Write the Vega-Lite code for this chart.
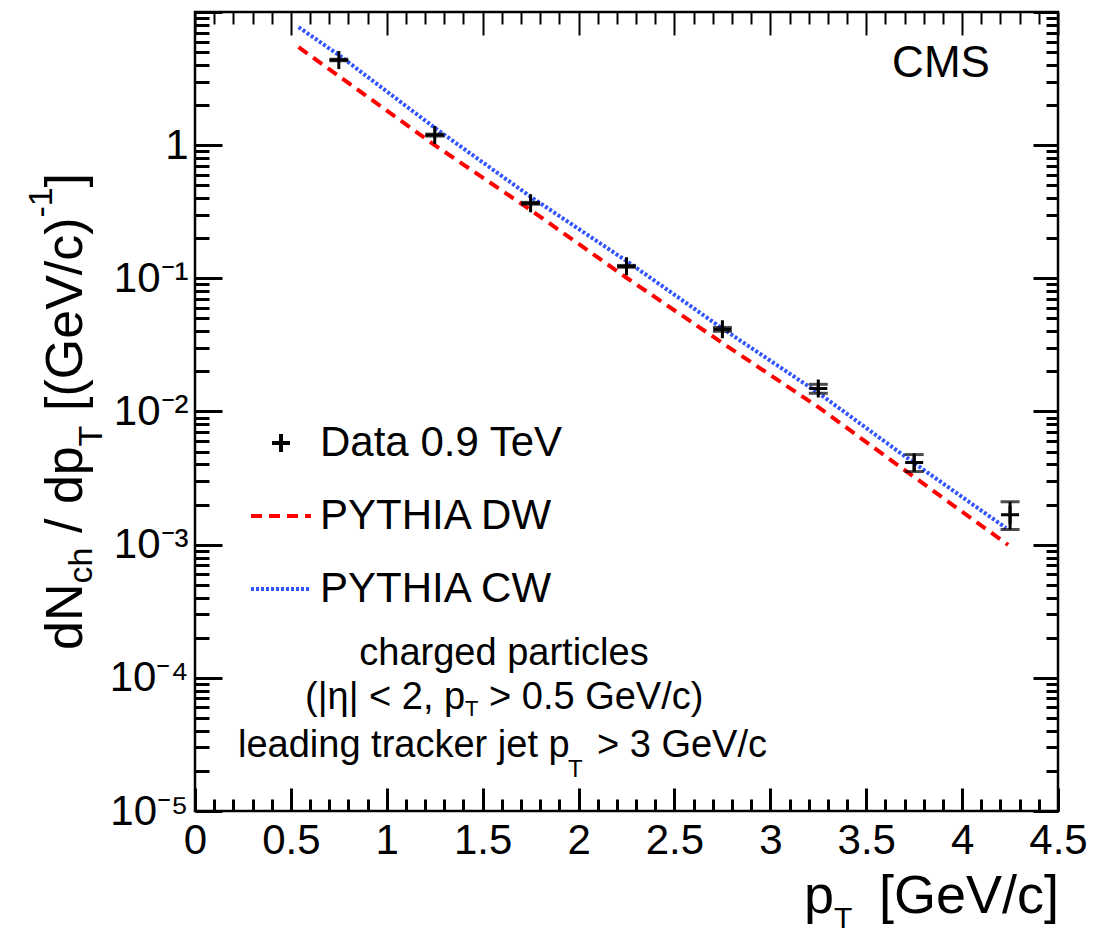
{
  "$schema": "https://vega.github.io/schema/vega-lite/v6.json",
  "width": 863,
  "height": 799,
  "autosize": {"type": "none"},
  "padding": {"left": 195, "top": 12, "right": 38, "bottom": 124},
  "background": "white",
  "config": {
    "font": "Liberation Sans",
    "view": {"stroke": "black", "strokeWidth": 2.5},
    "axis": {"grid": false, "domain": false, "labelFont": "Liberation Sans", "labelColor": "black", "tickColor": "black", "labelOverlap": false, "labelFlush": false, "labelBound": false}
  },
  "datasets": {
    "measured": [
      {"pt": 0.75, "dndpt": 4.36, "low": 4.30, "high": 4.42, "series": "Data 0.9 TeV"},
      {"pt": 1.25, "dndpt": 1.19, "low": 1.17, "high": 1.21, "series": "Data 0.9 TeV"},
      {"pt": 1.75, "dndpt": 0.366, "low": 0.360, "high": 0.372, "series": "Data 0.9 TeV"},
      {"pt": 2.25, "dndpt": 0.123, "low": 0.121, "high": 0.125, "series": "Data 0.9 TeV"},
      {"pt": 2.75, "dndpt": 0.0414, "low": 0.0400, "high": 0.0428, "series": "Data 0.9 TeV"},
      {"pt": 3.25, "dndpt": 0.0149, "low": 0.0137, "high": 0.0160, "series": "Data 0.9 TeV"},
      {"pt": 3.75, "dndpt": 0.00414, "low": 0.00354, "high": 0.00475, "series": "Data 0.9 TeV"},
      {"pt": 4.25, "dndpt": 0.00168, "low": 0.0013, "high": 0.0021, "series": "Data 0.9 TeV"}
    ],
    "models": [
      {"pt": 0.54, "dndpt": 5.45, "series": "PYTHIA DW"},
      {"pt": 1.25, "dndpt": 1.0, "series": "PYTHIA DW"},
      {"pt": 1.75, "dndpt": 0.326, "series": "PYTHIA DW"},
      {"pt": 2.25, "dndpt": 0.101, "series": "PYTHIA DW"},
      {"pt": 2.75, "dndpt": 0.0327, "series": "PYTHIA DW"},
      {"pt": 3.25, "dndpt": 0.0108, "series": "PYTHIA DW"},
      {"pt": 3.75, "dndpt": 0.00322, "series": "PYTHIA DW"},
      {"pt": 4.24, "dndpt": 0.000995, "series": "PYTHIA DW"},
      {"pt": 0.54, "dndpt": 7.7, "series": "PYTHIA CW"},
      {"pt": 0.75, "dndpt": 4.75, "series": "PYTHIA CW"},
      {"pt": 1.25, "dndpt": 1.35, "series": "PYTHIA CW"},
      {"pt": 1.75, "dndpt": 0.41, "series": "PYTHIA CW"},
      {"pt": 2.25, "dndpt": 0.135, "series": "PYTHIA CW"},
      {"pt": 2.75, "dndpt": 0.042, "series": "PYTHIA CW"},
      {"pt": 3.25, "dndpt": 0.0138, "series": "PYTHIA CW"},
      {"pt": 3.75, "dndpt": 0.0041, "series": "PYTHIA CW"},
      {"pt": 4.23, "dndpt": 0.00133, "series": "PYTHIA CW"}
    ]
  },
  "layer": [
    {
      "data": {"name": "models"},
      "mark": {"type": "line", "strokeWidth": 4},
      "encoding": {
        "x": {
          "field": "pt", "type": "quantitative",
          "scale": {"domain": [0, 4.5], "nice": false, "zero": false},
          "axis": {
            "orient": "bottom", "title": null,
            "values": [0,0.1,0.2,0.3,0.4,0.5,0.6,0.7,0.8,0.9,1,1.1,1.2,1.3,1.4,1.5,1.6,1.7,1.8,1.9,2,2.1,2.2,2.3,2.4,2.5,2.6,2.7,2.8,2.9,3,3.1,3.2,3.3,3.4,3.5,3.6,3.7,3.8,3.9,4,4.1,4.2,4.3,4.4,4.5],
            "labelExpr": "abs(datum.value*2-round(datum.value*2))<0.001 ? format(datum.value,'~g') : ''",
            "labelFontSize": 42, "labelPadding": 32,
            "tickSize": {"condition": {"test": "abs(datum.value*2-round(datum.value*2))<0.001", "value": -23}, "value": -12},
            "tickWidth": 3
          }
        },
        "y": {
          "field": "dndpt", "type": "quantitative",
          "scale": {"type": "log", "domain": [0.00001, 10], "nice": false},
          "axis": {
            "orient": "left", "title": null,
            "values": [0.00001,0.00002,0.00003,0.00004,0.00005,0.00006,0.00007,0.00008,0.00009,0.0001,0.0002,0.0003,0.0004,0.0005,0.0006,0.0007,0.0008,0.0009,0.001,0.002,0.003,0.004,0.005,0.006,0.007,0.008,0.009,0.01,0.02,0.03,0.04,0.05,0.06,0.07,0.08,0.09,0.1,0.2,0.3,0.4,0.5,0.6,0.7,0.8,0.9,1,2,3,4,5,6,7,8,9,10],
            "labelExpr": "abs(log(datum.value)/LN10 - round(log(datum.value)/LN10)) < 0.001 && datum.value < 5 ? ['10⁻⁵','10⁻⁴','10⁻³','10⁻²','10⁻¹','1'][round(log(datum.value)/LN10)+5] : ''",
            "labelFontSize": 42, "labelPadding": 34,
            "tickSize": {"condition": {"test": "abs(log(datum.value)/LN10 - round(log(datum.value)/LN10)) < 0.001", "value": -27}, "value": -14},
            "tickWidth": 3
          }
        },
        "color": {
          "field": "series", "type": "nominal",
          "scale": {"domain": ["Data 0.9 TeV", "PYTHIA DW", "PYTHIA CW"], "range": ["#000000", "#ff0000", "#3355ff"]},
          "legend": {
            "orient": "none", "legendX": 54, "legendY": 399, "title": null, "padding": 0,
            "labelFontSize": 42, "labelFont": "Liberation Sans", "labelColor": "black", "labelLimit": 500,
            "labelOffset": 7, "rowPadding": 20, "symbolSize": 3600, "symbolStrokeWidth": 4
          }
        },
        "strokeDash": {
          "field": "series", "type": "nominal",
          "scale": {"domain": ["Data 0.9 TeV", "PYTHIA DW", "PYTHIA CW"], "range": [[1, 0], [11, 7], [3, 2]]}
        }
      }
    },
    {
      "data": {"name": "measured"},
      "mark": {"type": "point", "filled": false, "strokeWidth": 3, "size": 3600, "opacity": 1},
      "encoding": {
        "x": {
          "field": "pt", "type": "quantitative",
          "axis": {
            "orient": "top", "title": null, "labels": false,
            "values": [0,0.1,0.2,0.3,0.4,0.5,0.6,0.7,0.8,0.9,1,1.1,1.2,1.3,1.4,1.5,1.6,1.7,1.8,1.9,2,2.1,2.2,2.3,2.4,2.5,2.6,2.7,2.8,2.9,3,3.1,3.2,3.3,3.4,3.5,3.6,3.7,3.8,3.9,4,4.1,4.2,4.3,4.4,4.5],
            "tickSize": {"condition": {"test": "abs(datum.value*2-round(datum.value*2))<0.001", "value": -23}, "value": -12},
            "tickWidth": 2
          }
        },
        "y": {
          "field": "dndpt", "type": "quantitative",
          "axis": {
            "orient": "right", "title": null, "labels": false,
            "values": [0.00001,0.00002,0.00003,0.00004,0.00005,0.00006,0.00007,0.00008,0.00009,0.0001,0.0002,0.0003,0.0004,0.0005,0.0006,0.0007,0.0008,0.0009,0.001,0.002,0.003,0.004,0.005,0.006,0.007,0.008,0.009,0.01,0.02,0.03,0.04,0.05,0.06,0.07,0.08,0.09,0.1,0.2,0.3,0.4,0.5,0.6,0.7,0.8,0.9,1,2,3,4,5,6,7,8,9,10],
            "tickSize": {"condition": {"test": "abs(log(datum.value)/LN10 - round(log(datum.value)/LN10)) < 0.001", "value": -25}, "value": -12},
            "tickWidth": 3
          }
        },
        "color": {"field": "series", "type": "nominal"},
        "shape": {
          "field": "series", "type": "nominal",
          "scale": {"domain": ["Data 0.9 TeV", "PYTHIA DW", "PYTHIA CW"], "range": ["M-0.3,0H0.3M0,-0.3V0.3", "stroke", "stroke"]}
        }
      }
    },
    {
      "data": {"name": "measured"},
      "mark": {"type": "rule", "strokeWidth": 3, "color": "black"},
      "encoding": {
        "x": {"field": "pt", "type": "quantitative", "axis": null},
        "y": {"field": "low", "type": "quantitative", "axis": null},
        "y2": {"field": "high"}
      }
    },
    {
      "data": {"name": "measured"},
      "mark": {"type": "tick", "orient": "horizontal", "size": 19, "thickness": 3, "color": "black"},
      "encoding": {
        "x": {"field": "pt", "type": "quantitative", "axis": null},
        "y": {"field": "low", "type": "quantitative", "axis": null}
      }
    },
    {
      "data": {"name": "measured"},
      "mark": {"type": "tick", "orient": "horizontal", "size": 19, "thickness": 3, "color": "black"},
      "encoding": {
        "x": {"field": "pt", "type": "quantitative", "axis": null},
        "y": {"field": "high", "type": "quantitative", "axis": null}
      }
    },
    {
      "data": {"values": [{}]},
      "mark": {"type": "text", "text": "CMS", "fontSize": 44, "align": "center", "baseline": "alphabetic", "color": "black"},
      "encoding": {"x": {"datum": 3.89, "type": "quantitative", "axis": null}, "y": {"datum": 3.25, "type": "quantitative", "axis": null}}
    },
    {
      "data": {"values": [{}]},
      "mark": {"type": "text", "text": "charged particles", "fontSize": 38, "align": "center", "baseline": "alphabetic", "color": "black"},
      "encoding": {"x": {"datum": 1.611, "type": "quantitative", "axis": null}, "y": {"datum": 0.0001249, "type": "quantitative", "axis": null}}
    },
    {
      "data": {"values": [{}]},
      "mark": {"type": "text", "text": "(|η| < 2, p", "fontSize": 38, "align": "left", "baseline": "alphabetic", "color": "black"},
      "encoding": {"x": {"datum": 0.5736, "type": "quantitative", "axis": null}, "y": {"datum": 0.0000583, "type": "quantitative", "axis": null}}
    },
    {
      "data": {"values": [{}]},
      "mark": {"type": "text", "text": "T", "fontSize": 22, "dy": 7, "align": "left", "baseline": "alphabetic", "color": "black"},
      "encoding": {"x": {"datum": 1.408, "type": "quantitative", "axis": null}, "y": {"datum": 0.0000583, "type": "quantitative", "axis": null}}
    },
    {
      "data": {"values": [{}]},
      "mark": {"type": "text", "text": "> 0.5 GeV/c)", "fontSize": 38, "align": "left", "baseline": "alphabetic", "color": "black"},
      "encoding": {"x": {"datum": 1.533, "type": "quantitative", "axis": null}, "y": {"datum": 0.0000583, "type": "quantitative", "axis": null}}
    },
    {
      "data": {"values": [{}]},
      "mark": {"type": "text", "text": "leading tracker jet p", "fontSize": 38, "align": "left", "baseline": "alphabetic", "color": "black"},
      "encoding": {"x": {"datum": 0.2242, "type": "quantitative", "axis": null}, "y": {"datum": 0.00002544, "type": "quantitative", "axis": null}}
    },
    {
      "data": {"values": [{}]},
      "mark": {"type": "text", "text": "T", "fontSize": 24, "dy": 20, "align": "left", "baseline": "alphabetic", "color": "black"},
      "encoding": {"x": {"datum": 1.945, "type": "quantitative", "axis": null}, "y": {"datum": 0.00002544, "type": "quantitative", "axis": null}}
    },
    {
      "data": {"values": [{}]},
      "mark": {"type": "text", "text": "> 3 GeV/c", "fontSize": 38, "align": "left", "baseline": "alphabetic", "color": "black"},
      "encoding": {"x": {"datum": 2.096, "type": "quantitative", "axis": null}, "y": {"datum": 0.00002544, "type": "quantitative", "axis": null}}
    },
    {
      "data": {"values": [{}]},
      "mark": {"type": "text", "text": "p", "fontSize": 54, "align": "left", "baseline": "alphabetic", "color": "black"},
      "encoding": {"x": {"datum": 3.175, "type": "quantitative", "axis": null}, "y": {"datum": 0.000001714, "type": "quantitative", "axis": null}}
    },
    {
      "data": {"values": [{}]},
      "mark": {"type": "text", "text": "T", "fontSize": 30, "dy": 15, "align": "left", "baseline": "alphabetic", "color": "black"},
      "encoding": {"x": {"datum": 3.332, "type": "quantitative", "axis": null}, "y": {"datum": 0.000001714, "type": "quantitative", "axis": null}}
    },
    {
      "data": {"values": [{}]},
      "mark": {"type": "text", "text": "[GeV/c]", "fontSize": 54, "align": "right", "baseline": "alphabetic", "color": "black"},
      "encoding": {"x": {"datum": 4.505, "type": "quantitative", "axis": null}, "y": {"datum": 0.000001714, "type": "quantitative", "axis": null}}
    },
    {
      "data": {"values": [{}]},
      "mark": {"type": "text", "text": "dN", "fontSize": 52, "angle": 270, "align": "left", "baseline": "alphabetic", "color": "black"},
      "encoding": {"x": {"datum": -0.589, "type": "quantitative", "axis": null}, "y": {"datum": 0.0001618, "type": "quantitative", "axis": null}}
    },
    {
      "data": {"values": [{}]},
      "mark": {"type": "text", "text": "ch", "fontSize": 34, "dy": 10, "angle": 270, "align": "left", "baseline": "alphabetic", "color": "black"},
      "encoding": {"x": {"datum": -0.589, "type": "quantitative", "axis": null}, "y": {"datum": 0.000511, "type": "quantitative", "axis": null}}
    },
    {
      "data": {"values": [{}]},
      "mark": {"type": "text", "text": "/ dp", "fontSize": 52, "angle": 270, "align": "left", "baseline": "alphabetic", "color": "black"},
      "encoding": {"x": {"datum": -0.589, "type": "quantitative", "axis": null}, "y": {"datum": 0.001224, "type": "quantitative", "axis": null}}
    },
    {
      "data": {"values": [{}]},
      "mark": {"type": "text", "text": "T", "fontSize": 34, "dy": 20, "angle": 270, "align": "left", "baseline": "alphabetic", "color": "black"},
      "encoding": {"x": {"datum": -0.589, "type": "quantitative", "axis": null}, "y": {"datum": 0.00546, "type": "quantitative", "axis": null}}
    },
    {
      "data": {"values": [{}]},
      "mark": {"type": "text", "text": "[(GeV/c)", "fontSize": 52, "angle": 270, "align": "left", "baseline": "alphabetic", "color": "black"},
      "encoding": {"x": {"datum": -0.589, "type": "quantitative", "axis": null}, "y": {"datum": 0.01009, "type": "quantitative", "axis": null}}
    },
    {
      "data": {"values": [{}]},
      "mark": {"type": "text", "text": "-1", "fontSize": 34, "dy": -30, "angle": 270, "align": "left", "baseline": "alphabetic", "color": "black"},
      "encoding": {"x": {"datum": -0.589, "type": "quantitative", "axis": null}, "y": {"datum": 0.2862, "type": "quantitative", "axis": null}}
    },
    {
      "data": {"values": [{}]},
      "mark": {"type": "text", "text": "]", "fontSize": 52, "angle": 270, "align": "left", "baseline": "alphabetic", "color": "black"},
      "encoding": {"x": {"datum": -0.589, "type": "quantitative", "axis": null}, "y": {"datum": 0.481, "type": "quantitative", "axis": null}}
    }
  ],
  "resolve": {"axis": {"x": "independent", "y": "independent"}}
}
